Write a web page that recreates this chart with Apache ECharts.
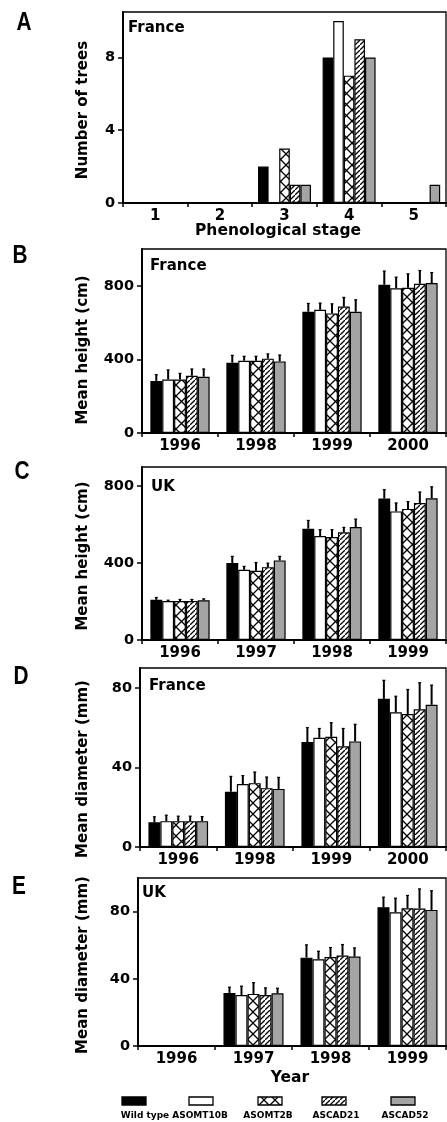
<!DOCTYPE html>
<html><head><meta charset="utf-8">
<script src="https://cdn.jsdelivr.net/npm/echarts@6/dist/echarts.min.js"></script>
<style>html,body{margin:0;padding:0;background:#fff}#c{width:447px;height:1122px}</style>
</head><body><div id="c"></div>
<script>
// ---------- data ----------
const seriesNames = ['Wild type', 'ASOMT10B', 'ASOMT2B', 'ASCAD21', 'ASCAD52'];

// A: France, number of trees per phenological stage
const stages = ['1', '2', '3', '4', '5'];
const treesWild = [0, 0, 2, 8, 0];
const trees10B  = [0, 0, 0, 10, 0];
const trees2B   = [0, 0, 3, 7, 0];
const trees21   = [0, 0, 1, 9, 0];
const trees52   = [0, 0, 1, 8, 1];

// B: France, mean height (cm)
const yearsFrance = ['1996', '1998', '1999', '2000'];
const hFrWild = [283, 382, 659, 806];
const hFr10B  = [291, 393, 670, 787];
const hFr2B   = [291, 393, 650, 789];
const hFr21   = [311, 404, 687, 811];
const hFr52   = [306, 389, 659, 815];
const hFrWildErr = [34, 40, 45, 74];
const hFr10BErr  = [52, 24, 36, 60];
const hFr2BErr   = [33, 24, 52, 76];
const hFr21Err   = [37, 26, 50, 72];
const hFr52Err   = [42, 35, 65, 57];

// C: UK, mean height (cm)
const yearsUK = ['1996', '1997', '1998', '1999'];
const hUkWild = [209, 400, 579, 736];
const hUk10B  = [203, 365, 541, 669];
const hUk2B   = [203, 360, 536, 682];
const hUk21   = [203, 379, 560, 713];
const hUk52   = [207, 414, 588, 737];
const hUkWildErr = [12, 35, 43, 46];
const hUk10BErr  = [4, 18, 33, 44];
const hUk2BErr   = [8, 43, 38, 38];
const hUk21Err   = [8, 21, 26, 57];
const hUk52Err   = [7, 21, 41, 60];

// D: France, mean diameter (mm)
const dFrWild = [12.4, 27.8, 52.8, 74.5];
const dFr10B  = [13.0, 31.7, 54.9, 67.7];
const dFr2B   = [13.0, 32.1, 55.4, 66.9];
const dFr21   = [13.0, 29.6, 50.6, 69.2];
const dFr52   = [13.0, 29.2, 53.1, 71.5];
const dFrWildErr = [2.8, 7.7, 7.2, 9.3];
const dFr10BErr  = [3.0, 4.2, 4.7, 8.1];
const dFr2BErr   = [2.5, 5.6, 7.1, 12.3];
const dFr21Err   = [2.5, 5.6, 9.0, 13.4];
const dFr52Err   = [2.3, 5.8, 8.6, 9.9];

// E: UK, mean diameter (mm) – no 1996 data
const dUkWild = [null, 31.6, 52.6, 82.6];
const dUk10B  = [null, 30.4, 51.6, 79.6];
const dUk2B   = [null, 31.0, 53.0, 82.0];
const dUk21   = [null, 30.4, 53.8, 81.8];
const dUk52   = [null, 31.4, 53.2, 81.0];
const dUkWildErr = [null, 3.4, 7.6, 6.0];
const dUk10BErr  = [null, 5.2, 4.8, 8.4];
const dUk2BErr   = [null, 6.7, 5.6, 7.6];
const dUk21Err   = [null, 4.2, 6.6, 11.7];
const dUk52Err   = [null, 3.0, 5.2, 11.4];

// tick labels
const ticksTrees = [0, 4, 8];
const ticksHeight = [0, 400, 800];
const ticksDiam = [0, 40, 80];

// ---------- patterns ----------
function crossPattern() {
  const s = 11, c = document.createElement('canvas');
  c.width = s; c.height = s;
  const g = c.getContext('2d');
  g.fillStyle = '#fff'; g.fillRect(0, 0, s, s);
  g.strokeStyle = '#000'; g.lineWidth = 1.3;
  g.beginPath();
  g.moveTo(-1, -1); g.lineTo(s + 1, s + 1);
  g.moveTo(s + 1, -1); g.lineTo(-1, s + 1);
  g.stroke();
  return c;
}
function diagPattern() {
  const s = 5, c = document.createElement('canvas');
  c.width = s; c.height = s;
  const g = c.getContext('2d');
  g.fillStyle = '#fff'; g.fillRect(0, 0, s, s);
  g.strokeStyle = '#000'; g.lineWidth = 1.3;
  g.beginPath();
  g.moveTo(-1, s + 1); g.lineTo(s + 1, -1);
  g.moveTo(-2, 1); g.lineTo(1, -2);
  g.moveTo(s - 1, s + 2); g.lineTo(s + 2, s - 1);
  g.stroke();
  return c;
}
const fills = ['#000000', '#ffffff',
  { image: crossPattern(), repeat: 'repeat' },
  { image: diagPattern(), repeat: 'repeat' },
  '#a4a4a4'];

// ---------- layout ----------
const FONT = '"DejaVu Sans", "Liberation Sans", sans-serif';
const panels = [
  { letter: 'A', site: 'France', siteX: 128, siteY: 28, letterX: 24, letterY: 23,
    grid: { left: 123, top: 12, right: 1, height: 191 }, cats: stages, max: 10.5, ticks: ticksTrees,
    vals: [treesWild, trees10B, trees2B, trees21, trees52], errs: null, gap: 0.18,
    yName: 'Number of trees', yNameY: 110 },
  { letter: 'B', site: 'France', siteX: 150, siteY: 266, letterX: 20, letterY: 256,
    grid: { left: 142, top: 249, right: 1, height: 184 }, cats: yearsFrance, max: 1000, ticks: ticksHeight,
    vals: [hFrWild, hFr10B, hFr2B, hFr21, hFr52],
    errs: [hFrWildErr, hFr10BErr, hFr2BErr, hFr21Err, hFr52Err], gap: 0.22,
    yName: 'Mean height (cm)', yNameY: 350 },
  { letter: 'C', site: 'UK', siteX: 151, siteY: 487, letterX: 22, letterY: 472,
    grid: { left: 142, top: 467, right: 1, height: 173 }, cats: yearsUK, max: 900, ticks: ticksHeight,
    vals: [hUkWild, hUk10B, hUk2B, hUk21, hUk52],
    errs: [hUkWildErr, hUk10BErr, hUk2BErr, hUk21Err, hUk52Err], gap: 0.22,
    yName: 'Mean height (cm)', yNameY: 556 },
  { letter: 'D', site: 'France', siteX: 149, siteY: 686, letterX: 21, letterY: 677,
    grid: { left: 140, top: 668, right: 1, height: 179 }, cats: yearsFrance, max: 90, ticks: ticksDiam,
    vals: [dFrWild, dFr10B, dFr2B, dFr21, dFr52],
    errs: [dFrWildErr, dFr10BErr, dFr2BErr, dFr21Err, dFr52Err], gap: 0.22,
    yName: 'Mean diameter (mm)', yNameY: 769 },
  { letter: 'E', site: 'UK', siteX: 142, siteY: 893, letterX: 19, letterY: 887,
    grid: { left: 138, top: 878, right: 1, height: 168 }, cats: yearsUK, max: 100, ticks: ticksDiam,
    vals: [dUkWild, dUk10B, dUk2B, dUk21, dUk52],
    errs: [dUkWildErr, dUk10BErr, dUk2BErr, dUk21Err, dUk52Err], gap: 0.22,
    yName: 'Mean diameter (mm)', yNameY: 965 }
];

const grids = [], xAxes = [], yAxes = [], series = [], graphics = [];
const txt = (text, x, y, size, opts) => Object.assign({
  type: 'text', x: x, y: y,
  style: { text: text, font: 'bold ' + size + 'px ' + FONT, fill: '#000',
           align: (opts && opts.align) || 'center', verticalAlign: 'middle' }
}, opts && opts.extra);

function errRender(si, gapFrac) {
  return function (params, api) {
    const c = api.value(0), v = api.value(1), e = api.value(2);
    if (isNaN(v) || isNaN(e)) return null;
    const p0 = api.coord([c, v]), p1 = api.coord([c, v + e]);
    const band = api.size([1, 0])[0];
    const bw = band * (1 - gapFrac) / 5;
    const x = p0[0] + (si - 2) * bw;
    return { type: 'group', children: [
      { type: 'line', shape: { x1: x, y1: p0[1], x2: x, y2: p1[1] }, style: { stroke: '#000', lineWidth: 2 } },
      { type: 'line', shape: { x1: x - 1.5, y1: p1[1], x2: x + 1.5, y2: p1[1] }, style: { stroke: '#000', lineWidth: 1.2 } }
    ] };
  };
}

panels.forEach((p, gi) => {
  grids.push(Object.assign({ show: true, borderColor: '#000', borderWidth: 1.3, backgroundColor: 'transparent' }, p.grid));
  xAxes.push({
    type: 'category', gridIndex: gi, data: p.cats, boundaryGap: true,
    axisLine: { lineStyle: { color: '#000', width: 2 } },
    axisTick: { show: true, length: 4, interval: 0, alignWithLabel: false, lineStyle: { color: '#000', width: 1.5 } },
    axisLabel: { color: '#000', fontFamily: FONT, fontWeight: 'bold', fontSize: 15, margin: 6, interval: 0 }
  });
  yAxes.push({
    type: 'value', gridIndex: gi, min: 0, max: p.max,
    splitLine: { show: false },
    axisLine: { show: true, lineStyle: { color: '#000', width: 2 } },
    axisTick: { show: true, length: 5, customValues: p.ticks, lineStyle: { color: '#000', width: 1.5 } },
    axisLabel: { color: '#000', fontFamily: FONT, fontWeight: 'bold', fontSize: 14.5, margin: 8, customValues: p.ticks }
  });
  p.vals.forEach((vals, si) => {
    series.push({
      type: 'bar', name: seriesNames[si], xAxisIndex: gi, yAxisIndex: gi, data: vals,
      barGap: '0%', barCategoryGap: (p.gap * 100) + '%',
      itemStyle: { color: fills[si], borderColor: '#000', borderWidth: 1.2 },
      silent: true, animation: false
    });
  });
  if (p.errs) {
    p.errs.forEach((errs, si) => {
      const data = [];
      p.cats.forEach((c, k) => {
        if (p.vals[si][k] != null && errs[k] != null) data.push([k, p.vals[si][k], errs[k]]);
      });
      series.push({
        type: 'custom', name: seriesNames[si] + ' SE', xAxisIndex: gi, yAxisIndex: gi,
        renderItem: errRender(si, p.gap), data: data, encode: { x: 0, y: 1 }, z: 5,
        silent: true, animation: false
      });
    });
  }
  graphics.push({ type: 'text', x: p.letterX, y: p.letterY, scaleX: 0.8,
    style: { text: p.letter, font: 'bold 26px "Liberation Sans", sans-serif', fill: '#000', align: 'center', verticalAlign: 'middle' } });
  graphics.push(txt(p.site, p.siteX, p.siteY, 15, { align: 'left' }));
  graphics.push(txt(p.yName, 83, p.yNameY, 15, { extra: { rotation: Math.PI / 2 } }));
});

graphics.push(txt('Phenological stage', 278, 231, 15.5));
graphics.push(txt('Year', 290, 1078, 15.5));

// legend (built from series names and fills)
const legIconX = [134, 201, 270, 334, 403];
const legLabelX = [145, 200, 268, 336, 405];
seriesNames.forEach((n, i) => {
  graphics.push({ type: 'rect', shape: { x: legIconX[i] - 12, y: 1097, width: 24, height: 8 },
    style: { fill: fills[i], stroke: '#000', lineWidth: 1.3 } });
  graphics.push(txt(n, legLabelX[i], 1116, 9));
});

const chart = echarts.init(document.getElementById('c'), null, { renderer: 'canvas' });
chart.setOption({
  animation: false,
  backgroundColor: '#fff',
  grid: grids, xAxis: xAxes, yAxis: yAxes, series: series,
  graphic: graphics
});
</script></body></html>
